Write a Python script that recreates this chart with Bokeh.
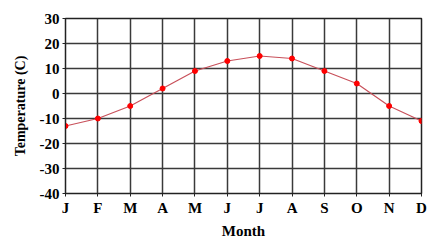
from bokeh.plotting import figure
from bokeh.models import FixedTicker, Range1d
from bokeh.embed import file_html
from bokeh.resources import INLINE

months = ["J", "F", "M", "A", "M", "J", "J", "A", "S", "O", "N", "D"]
temps = [-13, -10, -5, 2, 9, 13, 15, 14, 9, 4, -5, -11]
y_ticks = [-40, -30, -20, -10, 0, 10, 20, 30]
y_tick_labels = ["-40", "-30", "-20", "-10", "0", "10", "20", "30"]

x = list(range(len(months)))

FONT = "Liberation Serif"

p = figure(frame_width=356, frame_height=175, output_backend="svg",
           toolbar_location=None, x_range=Range1d(0, 11), y_range=Range1d(-40, 30),
           min_border_left=65, min_border_right=6, min_border_top=18, min_border_bottom=49)
p.width = 427
p.height = 242

p.outline_line_color = "#222222"
p.outline_line_width = 1.5
p.background_fill_color = "white"
p.border_fill_color = "white"

p.xaxis.ticker = FixedTicker(ticks=x)
p.xaxis.major_label_overrides = {i: m for i, m in enumerate(months)}
p.yaxis.ticker = FixedTicker(ticks=y_ticks)
p.yaxis.major_label_overrides = {t: s for t, s in zip(y_ticks, y_tick_labels)}

for ax in (p.xaxis[0], p.yaxis[0]):
    ax.axis_line_color = "#222222"
    ax.major_tick_line_color = "#222222"
    ax.major_tick_in = 0
    ax.major_tick_out = 3
    ax.minor_tick_line_color = None
    ax.major_label_text_font = FONT
    ax.major_label_text_font_style = "bold"
    ax.major_label_text_font_size = "15px"
    ax.major_label_text_color = "black"
    ax.axis_label_text_font = FONT
    ax.axis_label_text_font_style = "bold"
    ax.axis_label_text_color = "black"

p.xaxis.axis_label = "Month"
p.yaxis.axis_label = "Temperature (C)"
p.xaxis.axis_label_text_font_size = "15px"
p.yaxis.axis_label_text_font_size = "14px"
p.xaxis.major_label_standoff = 3
p.xaxis.axis_label_standoff = 4
p.yaxis.major_label_standoff = 3
p.yaxis.axis_label_standoff = 9

p.xgrid.ticker = FixedTicker(ticks=x)
p.ygrid.ticker = FixedTicker(ticks=y_ticks)
for g in (p.xgrid[0], p.ygrid[0]):
    g.grid_line_color = "#3a3a3a"
    g.grid_line_width = 1.5
    g.grid_line_alpha = 1.0

p.line(x, temps, line_color="#c8505a", line_width=1.2)
p.scatter(x, temps, marker="circle", size=5, fill_color="#ff0000", line_color="#ff0000")

open("out.html", "w").write(file_html(p, INLINE))
